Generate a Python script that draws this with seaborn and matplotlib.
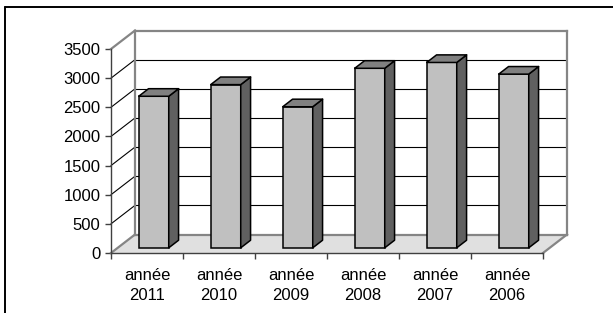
import numpy as np
import pandas as pd
import matplotlib
matplotlib.use("Agg")
import matplotlib.pyplot as plt
import seaborn as sns
from matplotlib.patches import Polygon
from matplotlib.transforms import Affine2D
from matplotlib.lines import Line2D

# ---- data ----
categories = ["année\n2011", "année\n2010", "année\n2009",
              "année\n2008", "année\n2007", "année\n2006"]
values = [2600, 2800, 2420, 3080, 3180, 2980]
yticks = [0, 500, 1000, 1500, 2000, 2500, 3000, 3500]

sns.set_theme(style="white")
plt.rcParams["font.family"] = ["Liberation Sans", "DejaVu Sans"]

W, H = 613, 313
fig = plt.figure(figsize=(W / 100, H / 100), dpi=100)
fig.patch.set_facecolor("white")

# front plane of the plot (pixel layout)
x_left, x_right, y_bot, y_top = 111, 543, 253, 49
ax = fig.add_axes([x_left / W, 1 - y_bot / H, (x_right - x_left) / W, (y_bot - y_top) / H])
ax.patch.set_visible(False)

n = len(categories)
ymax = yticks[-1]
px_per_cat = (x_right - x_left) / n
px_per_unit = (y_bot - y_top) / ymax

# depth of the 3D box, in data units
DX = 24 / px_per_cat
DY = 18.5 / px_per_unit
f0, f1 = 0.28, 0.69     # bar depth (front / back) as fraction of box depth

df = pd.DataFrame({"cat": categories, "val": values})
sns.barplot(data=df, x="cat", y="val", color="#c0c0c0", saturation=1,
            width=0.417, edgecolor="black", linewidth=1.1, ax=ax, zorder=5)
bars = list(ax.patches)

ax.set_xlim(-0.5, n - 0.5)
ax.set_ylim(0, ymax)

gray = "#858585"
xl, xr = -0.5, n - 0.5

# floor
ax.add_patch(Polygon([(xl, 0), (xr, 0), (xr + DX, DY), (xl + DX, DY)],
                     closed=True, facecolor="#e0e0e0", edgecolor="none",
                     zorder=0.5, clip_on=False))
# gridlines on back wall and left wall
for v in yticks[1:-1]:
    ax.add_line(Line2D([xl + DX, xr + DX], [v + DY, v + DY], color="black",
                       lw=0.8, zorder=1, clip_on=False))
    ax.add_line(Line2D([xl, xl + DX], [v, v + DY], color="black",
                       lw=0.8, zorder=1, clip_on=False))
# wall edges
edges = [
    ([xl, xl + DX], [ymax, ymax + DY]),
    ([xl + DX, xr + DX], [ymax + DY, ymax + DY]),
    ([xl + DX, xl + DX], [DY, ymax + DY]),
    ([xr + DX, xr + DX], [DY, ymax + DY]),
    ([xl + DX, xr + DX], [DY, DY]),
    ([xl, xl + DX], [0, DY]),
    ([xr, xr + DX], [0, DY]),
]
for xs, ys in edges:
    ax.add_line(Line2D(xs, ys, color=gray, lw=1.6, zorder=1.2, clip_on=False,
                       solid_capstyle="projecting"))

# 3D bar faces
shift = Affine2D().translate(f0 * DX, f0 * DY) + ax.transData
ddx, ddy = (f1 - f0) * DX, (f1 - f0) * DY
for p in bars:
    x0, w, h = p.get_x(), p.get_width(), p.get_height()
    p.set_transform(shift)
    p.set_clip_on(False)
    side = Polygon([(x0 + w, 0), (x0 + w + ddx, ddy), (x0 + w + ddx, h + ddy), (x0 + w, h)],
                   closed=True, facecolor="#606060", edgecolor="black", lw=1.1,
                   transform=shift, zorder=5, clip_on=False, joinstyle="round")
    top = Polygon([(x0, h), (x0 + w, h), (x0 + w + ddx, h + ddy), (x0 + ddx, h + ddy)],
                  closed=True, facecolor="#808080", edgecolor="black", lw=1.1,
                  transform=shift, zorder=5, clip_on=False, joinstyle="round")
    ax.add_patch(side)
    ax.add_patch(top)

# axes / spines
for s in ["top", "right"]:
    ax.spines[s].set_visible(False)
for s in ["left", "bottom"]:
    ax.spines[s].set_color("#404040")
    ax.spines[s].set_linewidth(1.0)
    ax.spines[s].set_zorder(2)

ax.set_yticks(yticks)
ax.set_yticklabels([str(v) for v in yticks])
ax.set_xticks(np.arange(n + 1) - 0.5)
ax.set_xticklabels([""] * (n + 1))
ax.set_xticks(np.arange(n), minor=True)
ax.set_xticklabels(categories, minor=True, linespacing=1.4)
ax.tick_params(axis="y", which="major", direction="out", length=4.5, width=1,
               color="#404040", pad=3, labelsize=12, labelcolor="black", left=True)
ax.tick_params(axis="x", which="major", direction="out", length=4.5, width=1,
               color="#404040", bottom=True)
ax.tick_params(axis="x", which="minor", length=0, pad=11, labelsize=12,
               labelcolor="black", bottom=True)
ax.set_xlabel("")
ax.set_ylabel("")

# outer chart border (left and top visible)
fig.add_artist(Line2D([5 / W, 5 / W], [0, 1 - 7 / H], transform=fig.transFigure,
                      color="black", lw=1.4))
fig.add_artist(Line2D([5 / W, 1], [1 - 7 / H, 1 - 7 / H], transform=fig.transFigure,
                      color="black", lw=1.4))

fig.savefig("out.png", dpi=100, facecolor="white")
